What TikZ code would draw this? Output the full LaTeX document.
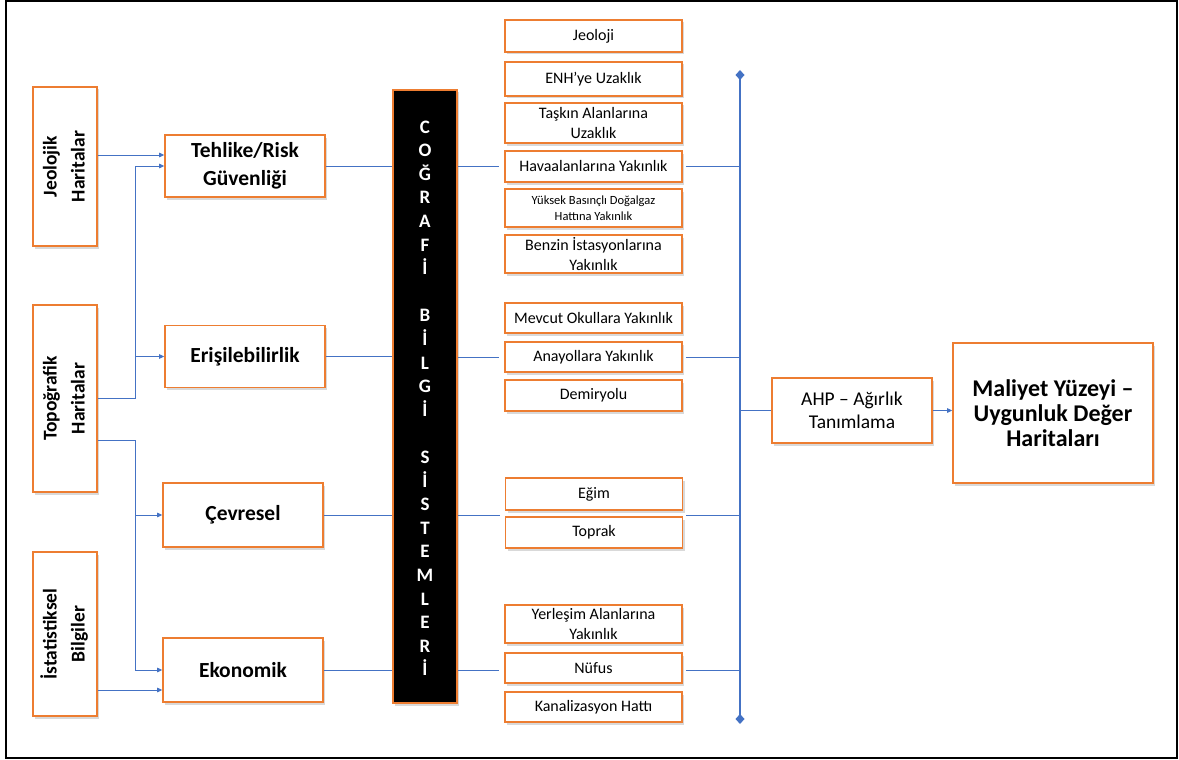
\documentclass[tikz,border=0pt]{standalone}
\usepackage{fontspec}
\usepackage{graphicx}
\setmainfont{Carlito}
\usetikzlibrary{arrows.meta,shadows}
\definecolor{borange}{HTML}{ED7D31}
\definecolor{lblue}{HTML}{4472C4}
\tikzset{
  obox/.style={draw=borange, line width=1.6pt, fill=white,
    drop shadow={shadow xshift=2pt, shadow yshift=-2.5pt, opacity=0.3},
    inner sep=1pt, align=center, text=black},
  lbox/.style={obox, minimum width=64pt, font=\bfseries\fontsize{19.5}{28}\selectfont},
  mbox/.style={obox, minimum width=160pt, font=\bfseries\fontsize{21.5}{28}\selectfont},
  rbox/.style={obox, minimum width=177pt, font=\fontsize{16}{19.5}\selectfont},
  barletter/.style={text=white, font=\bfseries\fontsize{19}{19}\selectfont, inner sep=0pt, text height=12.3pt, text depth=0pt},
  link/.style={draw=lblue, line width=0.9pt},
  arr/.style={link, -{Triangle[length=5pt,width=4.5pt]}},
  vline/.style={draw=lblue, line width=1.8pt, {Diamond[length=10pt,width=9pt]}-{Diamond[length=10pt,width=9pt]}}
}
\begin{document}
\begin{tikzpicture}[x=1pt,y=-1pt]
\useasboundingbox (0,0) rectangle (1179,760);
\draw[line width=2pt] (6,1) rectangle (1177,758);

% left column
\node[lbox, minimum height=159pt] (jeo) at (65,166.5)
  {\rotatebox{90}{\begin{tabular}{@{}c@{}}Jeolojik\\Haritalar\end{tabular}}};
\node[lbox, minimum height=187pt] (topo) at (65,398.5)
  {\rotatebox{90}{\begin{tabular}{@{}c@{}}Topoğrafik\\Haritalar\end{tabular}}};
\node[lbox, minimum height=164pt] (ist) at (65,634)
  {\rotatebox{90}{\begin{tabular}{@{}c@{}}İstatistiksel\\Bilgiler\end{tabular}}};

% second column
\node[mbox, minimum height=62pt] (tehl) at (245,166) {Tehlike/Risk\\Güvenliği};
\node[mbox, minimum height=62pt] (eris) at (245,356.5) {Erişilebilirlik};
\node[mbox, minimum height=64pt] (cevr) at (243,515) {Çevresel};
\node[mbox, minimum height=64pt] (ekon) at (243,670) {Ekonomik};

% black bar
\node[draw=borange, line width=1.6pt, fill=black,
  drop shadow={shadow xshift=2pt, shadow yshift=-2.5pt, opacity=0.3},
  minimum width=64pt, minimum height=613pt, inner sep=0pt] (bar) at (425,396.5) {};
\foreach \i/\c in {0/C,1/O,2/Ğ,3/R,4/A,5/F,6/İ,8/B,9/İ,10/L,11/G,12/İ,14/S,15/İ,16/S,17/T,18/E,19/M,20/L,21/E,22/R,23/İ}
  \node[barletter] (bl\i) at (425,{127+23.6*\i}) {\c};

% right boxes
\node[rbox, minimum height=32pt] (jeoloji) at (593.5,36) {Jeoloji};
\node[rbox, minimum height=34pt] (enh) at (593.5,79) {ENH’ye Uzaklık};
\node[rbox, minimum height=40pt] (taskin) at (593.5,123) {Taşkın Alanlarına\\Uzaklık};
\node[rbox, minimum height=31pt] (hava) at (593.5,166.5) {Havaalanlarına Yakınlık};
\node[rbox, minimum height=38pt, font=\fontsize{12.5}{16.5}\selectfont] (yuksek) at (593.5,208) {Yüksek Basınçlı Doğalgaz\\Hattına Yakınlık};
\node[rbox, minimum height=38pt] (benzin) at (593.5,254) {Benzin İstasyonlarına\\Yakınlık};
\node[rbox, minimum height=30pt] (okul) at (593.5,318) {Mevcut Okullara Yakınlık};
\node[rbox, minimum height=30pt] (anayol) at (593.5,357) {Anayollara Yakınlık};
\node[rbox, minimum height=31pt] (demir) at (593.5,395.5) {Demiryolu};
\node[rbox, minimum height=32pt] (egim) at (594,494) {Eğim};
\node[rbox, minimum height=31pt] (toprak) at (594,532.5) {Toprak};
\node[rbox, minimum height=38pt] (yerlesim) at (593.5,624) {Yerleşim Alanlarına\\Yakınlık};
\node[rbox, minimum height=30pt] (nufus) at (593.5,668) {Nüfus};
\node[rbox, minimum height=30pt] (kanal) at (593.5,707) {Kanalizasyon Hattı};

% AHP and result
\node[obox, minimum width=160pt, minimum height=65pt, font=\fontsize{19.5}{23}\selectfont] (ahp) at (852,410.5) {AHP – Ağırlık\\Tanımlama};
\node[obox, minimum width=200pt, minimum height=140pt, font=\bfseries\fontsize{24}{25}\selectfont] (mal) at (1053,413) {Maliyet Yüzeyi –\\Uygunluk Değer\\Haritaları};

% vertical collector line
\coordinate (vtop) at (740,70);
\coordinate (vbot) at (740,724);
\draw[vline] (vtop) -- (vbot);

% left connectors
\coordinate (t1) at ([yshift=11pt]tehl.west);
\draw[arr] (jeo.east |- t1) -- (t1);
\draw[link] (topo.east) -- ++(38,0) coordinate (j1);
\draw[arr] (j1) |- (tehl.west);
\draw[arr] (j1 |- eris.west) -- (eris.west);
\coordinate (t2) at ([yshift=-41.5pt]topo.east);
\draw[link] (t2) -- ++(38,0) coordinate (j2);
\draw[arr] (j2) |- (ekon.west);
\draw[arr] (j2 |- cevr.west) -- (cevr.west);
\coordinate (t3) at ([yshift=-20pt]ekon.west);
\draw[arr] (ist.east |- t3) -- (t3);

% second column to bar
\draw[link] (tehl.east) -- (tehl.east -| bar.west);
\draw[link] (eris.east) -- (eris.east -| bar.west);
\draw[link] (cevr.east) -- (cevr.east -| bar.west);
\draw[link] (ekon.east) -- (ekon.east -| bar.west);

% bar to right boxes and to collector
\draw[link] (bar.east |- hava.west) -- ([xshift=-5pt]hava.west);
\draw[link] ([xshift=3pt]hava.east) -- (vtop |- hava.east);
\draw[link] (bar.east |- anayol.west) -- ([xshift=-5pt]anayol.west);
\draw[link] ([xshift=3pt]anayol.east) -- (vtop |- anayol.east);
\coordinate (cm) at (cevr.east);
\draw[link] (bar.east |- cm) -- ([xshift=-5pt]egim.west |- cm);
\draw[link] ([xshift=3pt]egim.east |- cm) -- (vtop |- cm);
\draw[link] (bar.east |- ekon.east) -- ([xshift=-5pt]nufus.west |- ekon.east);
\draw[link] ([xshift=3pt]nufus.east |- ekon.east) -- (vtop |- ekon.east);

% collector to AHP to result
\draw[link] (vtop |- ahp.west) -- (ahp.west);
\draw[arr] (ahp.east) -- (mal.west |- ahp.east);
\end{tikzpicture}
\end{document}
